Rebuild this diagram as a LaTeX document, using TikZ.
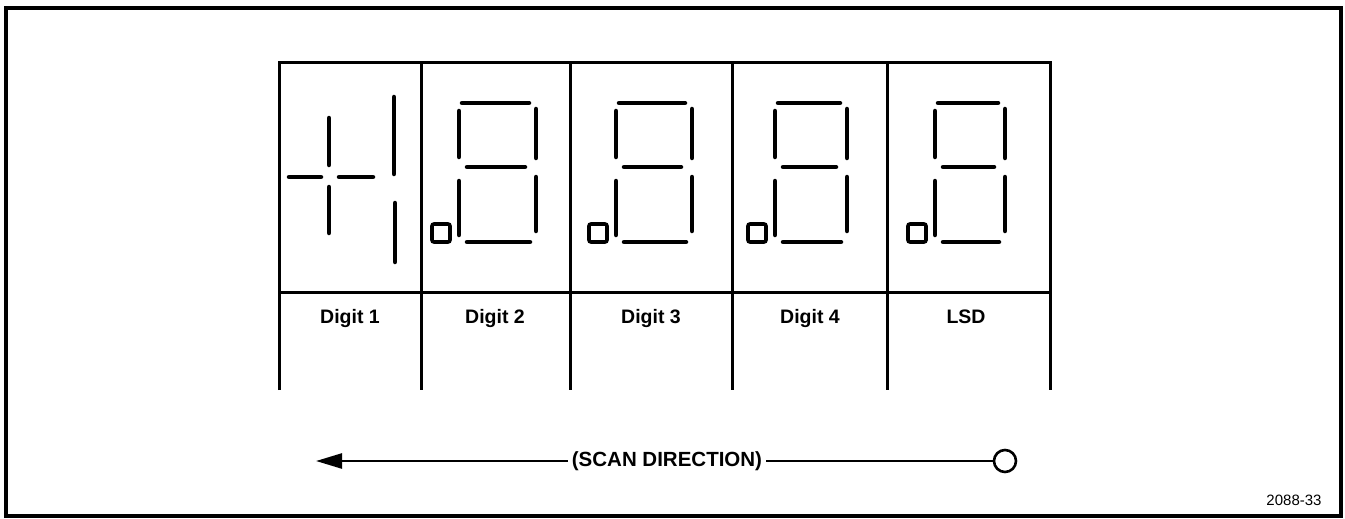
\documentclass[tikz,border=0pt]{standalone}
\usepackage{fontspec}
\setmainfont{Liberation Sans}
\usetikzlibrary{arrows.meta}
\tikzset{
  frame/.style={line width=3.5pt},
  grid/.style={line width=3pt},
  seg/.style={line width=4.5pt, line cap=round},
  dp/.style={line width=3.6pt, rounded corners=2pt},
  lbl/.style={font=\bfseries\fontsize{19.5}{21}\selectfont, inner sep=1pt, anchor=base},
  scanlbl/.style={font=\bfseries\fontsize{20.5}{22}\selectfont, inner sep=4pt},
  ring/.style={circle, draw, line width=2.6pt, minimum size=22pt, inner sep=0pt},
  conn/.style={line width=2.5pt},
}
\newcommand{\eightdigit}[2]{%
  % #1 = x of left verticals, #2 = x of right verticals
  \draw[seg] (#1+3,103) -- (#2-7,103);
  \draw[seg] (#1+8,167) -- (#2-11,167);
  \draw[seg] (#1+8,242) -- (#2-6,242);
  \draw[seg] (#1,111) -- (#1,157);
  \draw[seg] (#1,181) -- (#1,235);
  \draw[seg] (#2,109) -- (#2,158);
  \draw[seg] (#2,177) -- (#2,231);
  \draw[dp] (#1-27,224) rectangle (#1-9,242);
}
\begin{document}
\begin{tikzpicture}[x=1pt,y=-1pt]
\useasboundingbox (0,0) rectangle (1345,519);
% outer frame
\draw[frame] (6,8) rectangle (1341,516);
% table
\draw[grid] (279,390) -- (279,63) -- (1050,63) -- (1050,390);
\draw[grid] (279,292) -- (1050,292);
\foreach \x in {421,570,732,887} \draw[grid] (\x,63) -- (\x,390);
% digit 1: +1
\draw[seg] (329,118) -- (329,165);
\draw[seg] (329,187) -- (329,233);
\draw[seg] (289,177) -- (321,177);
\draw[seg] (339,177) -- (373,177);
\draw[seg] (394,97) -- (394,174);
\draw[seg] (395,203) -- (395,262);
% digits 2..LSD
\eightdigit{459}{536}
\eightdigit{616}{692}
\eightdigit{775}{847}
\eightdigit{935}{1005}
% labels
\node[lbl] (d1) at (350,323) {Digit 1};
\node[lbl] (d2) at (495,323) {Digit 2};
\node[lbl] (d3) at (651,323) {Digit 3};
\node[lbl] (d4) at (810,323) {Digit 4};
\node[lbl] (lsd) at (966,323) {LSD};
% scan direction
\node[scanlbl] (scan) at (667,461) {(SCAN DIRECTION)};
\node[ring] (o) at (1005,461) {};
\coordinate (tip) at (316,461);
\draw[conn, -{Triangle[length=26pt,width=15pt]}] (scan.west) -- (tip);
\draw[conn] (scan.east) -- (o.west);
% figure number
\node[font=\fontsize{15}{17}\selectfont] (fig) at (1294,500) {2088-33};
\end{tikzpicture}
\end{document}
